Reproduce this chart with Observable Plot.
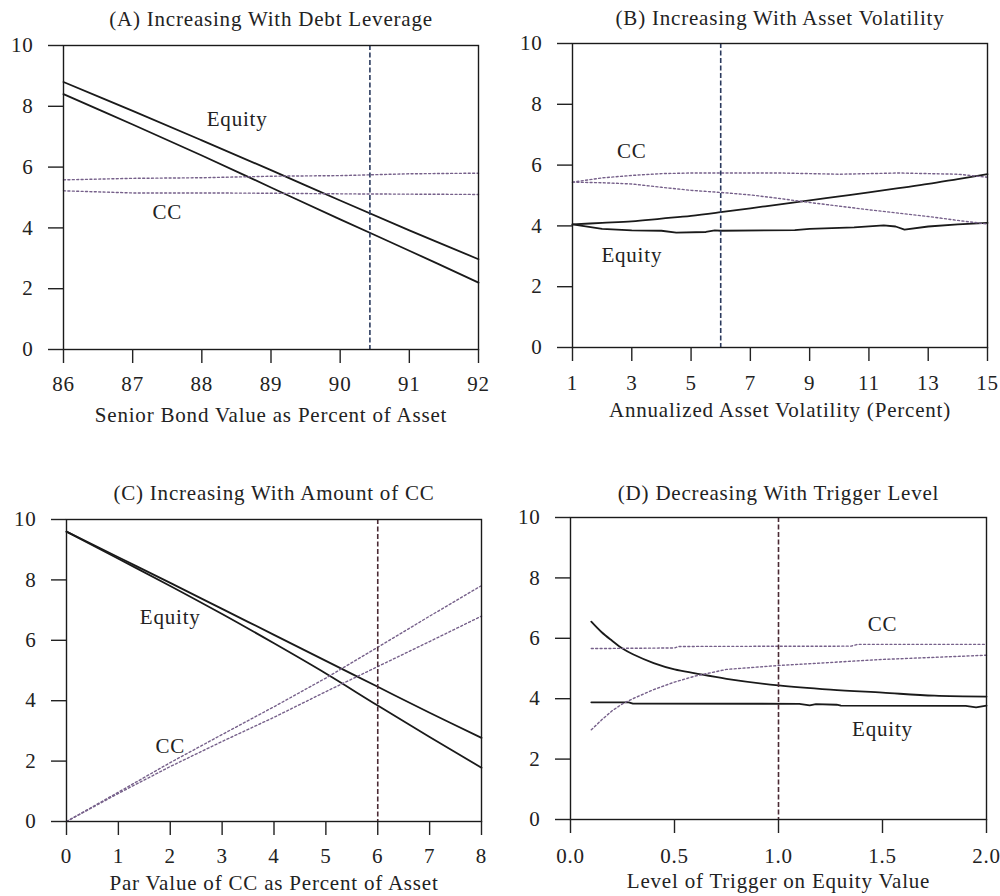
<!DOCTYPE html>
<html>
<head>
<meta charset="utf-8">
<script src="https://cdn.jsdelivr.net/npm/d3@7"></script>
<script src="https://cdn.jsdelivr.net/npm/@observablehq/plot@0.6"></script>
<style>
  html, body { margin: 0; padding: 0; background: #fff; }
  #root { position: relative; width: 1000px; height: 896px; background: #fff; overflow: hidden; }
  .panel { position: absolute; }
</style>
</head>
<body>
<div id="root"></div>
<script>
// ---------- Data ----------
const yTicks = [0, 2, 4, 6, 8, 10];

// Panel A
const titleA = "(A) Increasing With Debt Leverage";
const xLabelA = "Senior Bond Value as Percent of Asset";
const xTicksA = [86, 87, 88, 89, 90, 91, 92];
const aX = [86, 87, 88, 89, 90, 91, 92];
const aEquityHigh = [8.8, 7.85, 6.88, 5.9, 4.9, 3.92, 2.97];
const aEquityLow = [8.4, 7.4, 6.38, 5.33, 4.28, 3.25, 2.2];
const aCcHigh = [5.58, 5.63, 5.65, 5.7, 5.72, 5.78, 5.8];
const aCcLow = [5.22, 5.15, 5.15, 5.14, 5.12, 5.11, 5.1];
const aBase = 90.43;

// Panel B
const titleB = "(B) Increasing With Asset Volatility";
const xLabelB = "Annualized Asset Volatility (Percent)";
const xTicksB = [1, 3, 5, 7, 9, 11, 13, 15];
const bX = [1, 2, 3, 4, 5, 6, 7, 8, 9, 10, 11, 12, 13, 14, 15];
const bEquityHigh = [4.05, 4.1, 4.15, 4.24, 4.33, 4.45, 4.58, 4.71, 4.84, 4.97, 5.1, 5.24, 5.38, 5.54, 5.7];
const bCcHigh = [5.44, 5.58, 5.66, 5.72, 5.74, 5.74, 5.74, 5.74, 5.72, 5.7, 5.72, 5.74, 5.72, 5.7, 5.6];
const bCcLow = [5.44, 5.42, 5.38, 5.27, 5.17, 5.1, 5.02, 4.9, 4.77, 4.65, 4.53, 4.42, 4.31, 4.18, 4.06];
const bEquityLowX = [1, 2, 3, 4, 4.5, 5.5, 5.8, 6, 8.5, 9, 10.5, 11.5, 11.9, 12.2, 13, 14, 15];
const bEquityLow = [4.05, 3.9, 3.85, 3.84, 3.78, 3.8, 3.85, 3.84, 3.86, 3.9, 3.95, 4.02, 3.98, 3.88, 3.98, 4.05, 4.1];
const bBase = 6;

// Panel C
const titleC = "(C) Increasing With Amount of CC";
const xLabelC = "Par Value of CC as Percent of Asset";
const xTicksC = [0, 1, 2, 3, 4, 5, 6, 7, 8];
const cX = [0, 1, 2, 3, 4, 5, 6, 7, 8];
const cEquityHigh = [9.6, 8.75, 7.9, 7.04, 6.18, 5.32, 4.46, 3.6, 2.77];
const cEquityLow = [9.6, 8.7, 7.8, 6.87, 5.9, 4.9, 3.84, 2.8, 1.78];
const cCcHigh = [0, 0.97, 1.95, 2.88, 3.8, 4.75, 5.77, 6.8, 7.81];
const cCcLow = [0, 0.93, 1.82, 2.65, 3.45, 4.3, 5.13, 5.96, 6.8];
const cBase = 6;

// Panel D
const titleD = "(D) Decreasing With Trigger Level";
const xLabelD = "Level of Trigger on Equity Value";
const xTicksD = [0, 0.5, 1, 1.5, 2];
const dEquityHighX = [0.1, 0.15, 0.2, 0.25, 0.3, 0.4, 0.5, 0.6, 0.75, 1.0, 1.25, 1.5, 1.75, 2.0];
const dEquityHigh = [6.55, 6.2, 5.92, 5.66, 5.47, 5.18, 4.97, 4.84, 4.66, 4.44, 4.3, 4.2, 4.1, 4.07];
const dEquityLowX = [0.1, 0.28, 0.3, 1.1, 1.15, 1.18, 1.28, 1.3, 1.9, 1.95, 2.0];
const dEquityLow = [3.88, 3.88, 3.84, 3.83, 3.78, 3.82, 3.8, 3.77, 3.76, 3.71, 3.77];
const dCcHighX = [0.1, 0.5, 0.52, 1.35, 1.38, 2.0];
const dCcHigh = [5.66, 5.68, 5.73, 5.74, 5.8, 5.8];
const dCcLowX = [0.1, 0.15, 0.2, 0.25, 0.3, 0.4, 0.5, 0.6, 0.75, 1.0, 1.25, 1.5, 1.75, 2.0];
const dCcLow = [2.97, 3.3, 3.6, 3.83, 4.0, 4.3, 4.55, 4.75, 4.97, 5.1, 5.2, 5.3, 5.37, 5.44];
const dBase = 1;

// Label positions (data coordinates)
const labelsA = [{t: "Equity", x: 88.51, y: 7.56}, {t: "CC", x: 87.5, y: 4.5}];
const labelsB = [{t: "CC", x: 3, y: 6.45}, {t: "Equity", x: 3, y: 3.03}];
const labelsC = [{t: "Equity", x: 2, y: 6.75}, {t: "CC", x: 2, y: 2.5}];
const labelsD = [{t: "CC", x: 1.5, y: 6.45}, {t: "Equity", x: 1.5, y: 3.0}];

// ---------- Drawing ----------
const INK = "#1a1a1a";
const DOT = "#76608a";

function panel(cfg) {
  const solid = {stroke: INK, strokeWidth: 1.8, curve: "catmull-rom"};
  const dotted = {stroke: DOT, strokeWidth: 1.4, strokeDasharray: "2,2.4"};
  return Plot.plot({
    width: 500,
    height: cfg.height,
    marginLeft: cfg.ml, marginRight: cfg.mr, marginTop: cfg.mt, marginBottom: cfg.mb,
    style: {fontFamily: "'Liberation Serif', serif", fontSize: "21px", color: "#222", background: "white", letterSpacing: "0.8px"},
    x: {domain: cfg.domain},
    y: {domain: [0, 10]},
    marks: [
      ...cfg.series.map(s => Plot.line(d3.zip(s.x, s.y), s.dotted ? dotted : (s.linear ? {...solid, curve: "linear"} : solid))),
      Plot.ruleX([cfg.base], {stroke: cfg.baseColor, strokeWidth: 1.6, strokeDasharray: "5,2.5"}),
      Plot.frame({stroke: INK, strokeWidth: 1.4}),
      Plot.axisX({ticks: cfg.ticks, tickFormat: cfg.fmt, tickSize: 14, tickPadding: cfg.tp, strokeWidth: 1.4, label: null}),
      Plot.axisY({ticks: yTicks, tickSize: 15, tickPadding: 15, strokeWidth: 1.4, label: null}),
      Plot.text(cfg.labels, {x: "x", y: "y", text: "t", fill: "#222"}),
      Plot.text([cfg.title], {frameAnchor: "top", lineAnchor: "middle", dy: cfg.titleDy, fill: "#222"}),
      Plot.text([cfg.xLabel], {frameAnchor: "bottom", lineAnchor: "middle", dy: cfg.xLabelDy, fill: "#222"})
    ]
  });
}

const root = document.getElementById("root");
const configs = [
  {left: 0, top: 0, height: 440, ml: 63, mr: 22, mt: 45, mb: 91, tp: 13, titleDy: -26, xLabelDy: 66,
   domain: [86, 92], ticks: xTicksA, fmt: d => String(d), base: aBase, baseColor: "#2b3a5e",
   title: titleA, xLabel: xLabelA, labels: labelsA,
   series: [
     {x: aX, y: aEquityHigh}, {x: aX, y: aEquityLow},
     {x: aX, y: aCcHigh, dotted: true}, {x: aX, y: aCcLow, dotted: true}
   ]},
  {left: 500, top: 0, height: 440, ml: 72, mr: 13, mt: 43, mb: 93, tp: 14, titleDy: -25, xLabelDy: 63,
   domain: [1, 15], ticks: xTicksB, fmt: d => String(d), base: bBase, baseColor: "#2b3a5e",
   title: titleB, xLabel: xLabelB, labels: labelsB,
   series: [
     {x: bX, y: bEquityHigh}, {x: bEquityLowX, y: bEquityLow, linear: true},
     {x: bX, y: bCcHigh, dotted: true}, {x: bX, y: bCcLow, dotted: true}
   ]},
  {left: 0, top: 450, height: 446, ml: 66, mr: 19, mt: 69, mb: 75, tp: 13, titleDy: -26, xLabelDy: 62,
   domain: [0, 8], ticks: xTicksC, fmt: d => String(d), base: cBase, baseColor: "#4a2a34",
   title: titleC, xLabel: xLabelC, labels: labelsC,
   series: [
     {x: cX, y: cEquityHigh}, {x: cX, y: cEquityLow},
     {x: cX, y: cCcHigh, dotted: true}, {x: cX, y: cCcLow, dotted: true}
   ]},
  {left: 500, top: 450, height: 446, ml: 70, mr: 14, mt: 67, mb: 77, tp: 15, titleDy: -24, xLabelDy: 62,
   domain: [0, 2], ticks: xTicksD, fmt: d3.format(".1f"), base: dBase, baseColor: "#4a2a34",
   title: titleD, xLabel: xLabelD, labels: labelsD,
   series: [
     {x: dEquityHighX, y: dEquityHigh}, {x: dEquityLowX, y: dEquityLow, linear: true},
     {x: dCcHighX, y: dCcHigh, dotted: true}, {x: dCcLowX, y: dCcLow, dotted: true}
   ]}
];

for (const cfg of configs) {
  const div = document.createElement("div");
  div.className = "panel";
  div.style.left = cfg.left + "px";
  div.style.top = cfg.top + "px";
  div.appendChild(panel(cfg));
  root.appendChild(div);
}
</script>
</body>
</html>
